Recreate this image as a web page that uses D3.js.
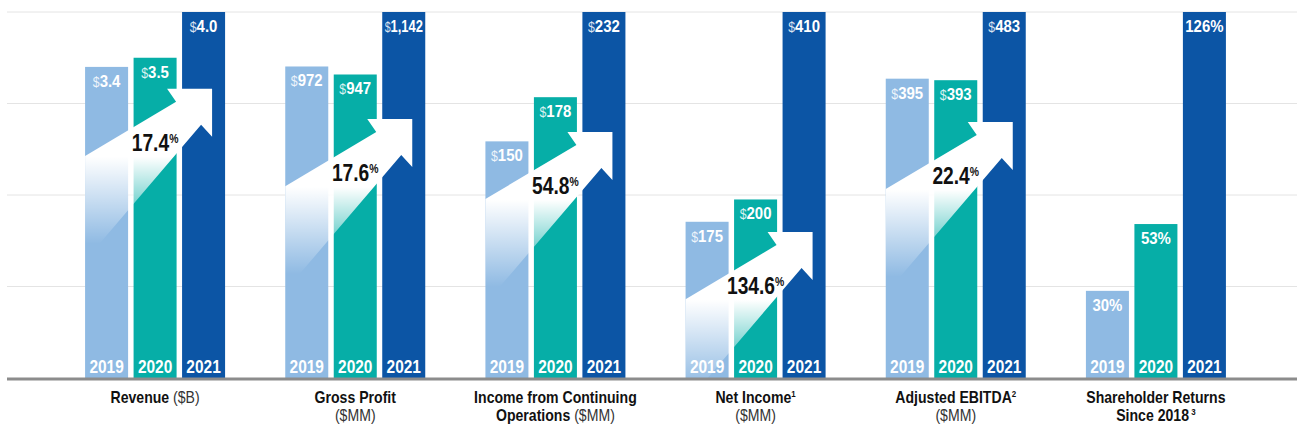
<!DOCTYPE html>
<html>
<head>
<meta charset="utf-8">
<script src="https://cdn.jsdelivr.net/npm/d3@7"></script>
<style>
  body { margin: 0; background: #fff; }
  svg { display: block; font-family: "Liberation Sans", Arial, Helvetica, sans-serif; }
</style>
</head>
<body>
<svg id="chart"></svg>
<script>
// Data
const categories = ["Revenue", "Gross Profit", "Income from Continuing Operations", "Net Income", "Adjusted EBITDA", "Shareholder Returns"];
const years = ["2019", "2020", "2021"];
const values2019 = [3.4, 972, 150, 175, 395, 30];
const values2020 = [3.5, 947, 178, 200, 393, 53];
const values2021 = [4.0, 1142, 232, 410, 483, 126];
const growthLabels = ["17.4", "17.6", "54.8", "134.6", "22.4", null];
const arrowLevels = [3.16, 808, 156, 163.5, 338, null]; // arrow tip, in each group's own units
const valuePrefix = ["$", "$", "$", "$", "$", ""];
const valueSuffix = ["", "", "", "", "", "%"];
const valueFormats = [".1f", ",", ",", ",", ",", "d"];
const yearColors = ["#8fbae3", "#06aea7", "#0c55a5"];
// category labels: each line is a list of [text, style] pieces
const categoryLabels = [
  [[["Revenue", "b"], [" ($B)", "n"]]],
  [[["Gross Profit", "b"]], [["($MM)", "n"]]],
  [[["Income from Continuing", "b"]], [["Operations", "b"], [" ($MM)", "n"]]],
  [[["Net Income", "b"], ["1", "sup"]], [["($MM)", "n"]]],
  [[["Adjusted EBITDA", "b"], ["2", "sup"]], [["($MM)", "n"]]],
  [[["Shareholder Returns", "b"]], [["Since 2018", "b"], [" 3", "sup"]]]
];

const W = 1297, H = 444;
const baseY = 378, topY = 12;

const svg = d3.select("#chart").attr("width", W).attr("height", H);

const x = d3.scaleBand().domain(categories).range([55, 1256]).paddingInner(0).paddingOuter(0);
const xYear = d3.scaleBand().domain(years).range([0, 140]).paddingInner(0.113);

// condensed text: squeeze horizontally around the anchor point
function narrowText(parent, cx, cy, sx) {
  return parent.append("text")
    .attr("transform", `translate(${cx},${cy}) scale(${sx},1)`)
    .attr("text-anchor", "middle");
}

// gridlines
const grid = d3.scaleLinear().domain([0, 4]).range([baseY, topY]);
svg.append("g").selectAll("line")
  .data(d3.range(1, 5))
  .join("line")
  .attr("x1", 7).attr("x2", W)
  .attr("y1", d => grid(d)).attr("y2", d => grid(d))
  .attr("stroke", "#e4e4e4").attr("stroke-width", 1);

const defs = svg.append("defs");

categories.forEach((cat, i) => {
  const vals = [values2019[i], values2020[i], values2021[i]];
  const y = d3.scaleLinear().domain([0, d3.max(vals)]).range([baseY, topY]);
  const gx = x(cat) + x.bandwidth() / 2 - 70;
  const g = svg.append("g").attr("transform", `translate(${gx},0)`);
  const fmt = d3.format(valueFormats[i]);

  g.selectAll("rect")
    .data(vals)
    .join("rect")
    .attr("x", (d, j) => xYear(years[j]))
    .attr("y", d => y(d))
    .attr("width", xYear.bandwidth())
    .attr("height", d => baseY - y(d))
    .attr("fill", (d, j) => yearColors[j]);

  // growth arrow
  if (arrowLevels[i] != null) {
    const x0 = xYear(years[0]);
    const tx = xYear(years[2]) + xYear.bandwidth() - 13;
    const ty = y(arrowLevels[i]);
    const topLeftY = ty + 13 + 0.595 * (tx - 36 - x0);
    const botLeftY = ty + 36 + 1.17 * (tx - 11 - x0);
    const gid = "arrowGrad" + i;
    const grad = defs.append("linearGradient").attr("id", gid)
      .attr("gradientUnits", "userSpaceOnUse")
      .attr("x1", 0).attr("x2", 0)
      .attr("y1", ty + 68).attr("y2", ty + 155);
    grad.append("stop").attr("offset", 0).attr("stop-color", "#fff").attr("stop-opacity", 1);
    grad.append("stop").attr("offset", 1).attr("stop-color", "#fff").attr("stop-opacity", 0);
    const pts = [
      [tx, ty], [tx - 45, ty], [tx - 36, ty + 13], [x0, topLeftY],
      [x0, botLeftY], [tx - 11, ty + 36], [tx, ty + 48]
    ];
    g.append("path")
      .attr("d", d3.line()(pts) + "Z")
      .attr("fill", `url(#${gid})`);

    const t = narrowText(g, 70, ty + 62, 0.8)
      .attr("font-weight", "bold")
      .attr("font-size", 24)
      .attr("fill", "#111");
    t.append("tspan").text(growthLabels[i]);
    t.append("tspan").attr("font-size", 13).attr("dy", -8).text("%");
  }

  // value labels
  vals.forEach((v, j) => {
    const t = narrowText(g, xYear(years[j]) + xYear.bandwidth() / 2, y(v) + 20, v >= 1000 ? 0.76 : 0.88)
      .attr("fill", "#fff");
    if (valuePrefix[i]) {
      t.append("tspan").attr("font-size", 14).attr("fill-opacity", 0.85).text(valuePrefix[i]);
    }
    t.append("tspan").attr("font-size", 17).attr("font-weight", "bold")
      .text(fmt(v) + valueSuffix[i]);
  });

  // year labels
  years.forEach(yr => {
    narrowText(g, xYear(yr) + xYear.bandwidth() / 2, 373, 0.86)
      .attr("font-size", 18)
      .attr("font-weight", "bold")
      .attr("fill", "#fff")
      .text(yr);
  });

  // category label
  categoryLabels[i].forEach((line, k) => {
    const t = narrowText(g, 70, 403 + k * 18, 0.88)
      .attr("font-size", 16)
      .attr("fill", "#111");
    line.forEach(([txt, st]) => {
      const s = t.append("tspan").text(txt);
      if (st === "b") s.attr("font-weight", "bold");
      if (st === "n") s.attr("fill", "#333");
      if (st === "sup") s.attr("font-size", 9).attr("font-weight", "bold").attr("baseline-shift", "6");
    });
  });
});

// baseline
svg.append("line")
  .attr("x1", 7).attr("x2", W)
  .attr("y1", baseY + 1).attr("y2", baseY + 1)
  .attr("stroke", "#8c8c8c").attr("stroke-width", 3);
</script>
</body>
</html>
